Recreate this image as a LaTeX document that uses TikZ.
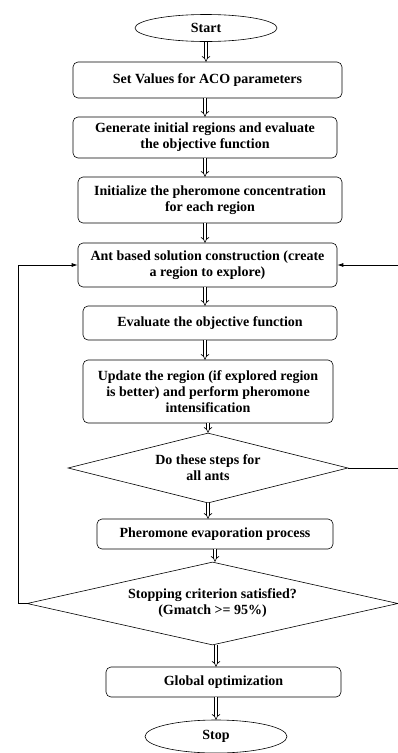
\documentclass[tikz,border=0pt]{standalone}
\usepackage{fontspec}
\setmainfont{Liberation Serif}
\usetikzlibrary{shapes.geometric,arrows.meta}
\begin{document}
\begin{tikzpicture}[x=1pt,y=-1pt,
  txt/.style={align=center,font=\bfseries\fontsize{14}{16}\selectfont,inner sep=0pt},
  box/.style={txt,draw,rounded corners=5pt,line width=0.6pt},
  term/.style={txt,draw,ellipse,line width=0.6pt},
  dia/.style={txt,draw,diamond,aspect=4,line width=0.6pt},
  dbl/.style={draw,line width=0.6pt,double=white,double distance=2.4pt,-{Implies}},
  loop/.style={draw,line width=0.7pt,-{Latex[length=6pt,width=4pt]}}]
\useasboundingbox (0,0) rectangle (398,753);
\node[term,minimum width=142pt,minimum height=27pt] (start) at (206,28) {Start};
\node[box,minimum width=269pt,minimum height=36pt] (b1) at (207.5,80) {Set Values for ACO parameters};
\node[box,minimum width=264pt,minimum height=41pt] (b2) at (205,137.5) {Generate initial regions and evaluate\\the objective function};
\node[box,minimum width=264pt,minimum height=46pt] (b3) at (210,200) {Initialize the pheromone concentration\\for each region};
\node[box,minimum width=259pt,minimum height=44pt] (b4) at (207.5,265) {Ant based solution construction (create\\a region to explore)};
\node[box,minimum width=254pt,minimum height=34pt] (b5) at (210,323) {Evaluate the objective function};
\node[box,minimum width=250pt,minimum height=63pt] (b6) at (208,391.5) {Update the region (if explored region\\is better) and perform pheromone\\intensification};
\node[dia,minimum width=280pt,minimum height=70pt] (d1) at (208,468) {Do these steps for\\all ants};
\node[box,minimum width=236pt,minimum height=30pt] (b7) at (215,534) {Pheromone evaporation process};
\node[dia,minimum width=371pt,minimum height=83pt] (d2) at (212.5,603.5) {Stopping criterion satisfied?\\(Gmatch >= 95\%)};
\node[box,minimum width=235pt,minimum height=30pt] (b8) at (223.5,682) {Global optimization};
\node[term,minimum width=142pt,minimum height=33pt] (stop) at (216,736.5) {Stop};
\coordinate (rc) at (399.5,468);
\coordinate (lc) at (18,603.5);
\draw[dbl] (start.south) -- (start.south |- b1.north);
\draw[dbl] (b1.south -| b2.north) -- (b2.north);
\draw[dbl] (b2.south) -- (b2.south |- b3.north);
\draw[dbl] (b3.south -| b2.south) -- (b2.south |- b4.north);
\draw[dbl] (b4.south -| b2.south) -- (b2.south |- b5.north);
\draw[dbl] (b5.south -| b2.south) -- (b2.south |- b6.north);
\draw[dbl] (b6.south) -- (d1.north);
\draw[dbl] (d1.south) -- (d1.south |- b7.north);
\draw[dbl] (b7.south) -- (b7.south |- d2.north);
\draw[dbl] (stop.north |- d2.south) -- (stop.north |- b8.north);
\draw[dbl] (b8.south -| stop.north) -- (stop.north);
\draw[loop] (d1.east) -- (rc) |- (b4.east);
\draw[loop] (d2.west) -- (lc) |- (b4.west);
\end{tikzpicture}
\end{document}
